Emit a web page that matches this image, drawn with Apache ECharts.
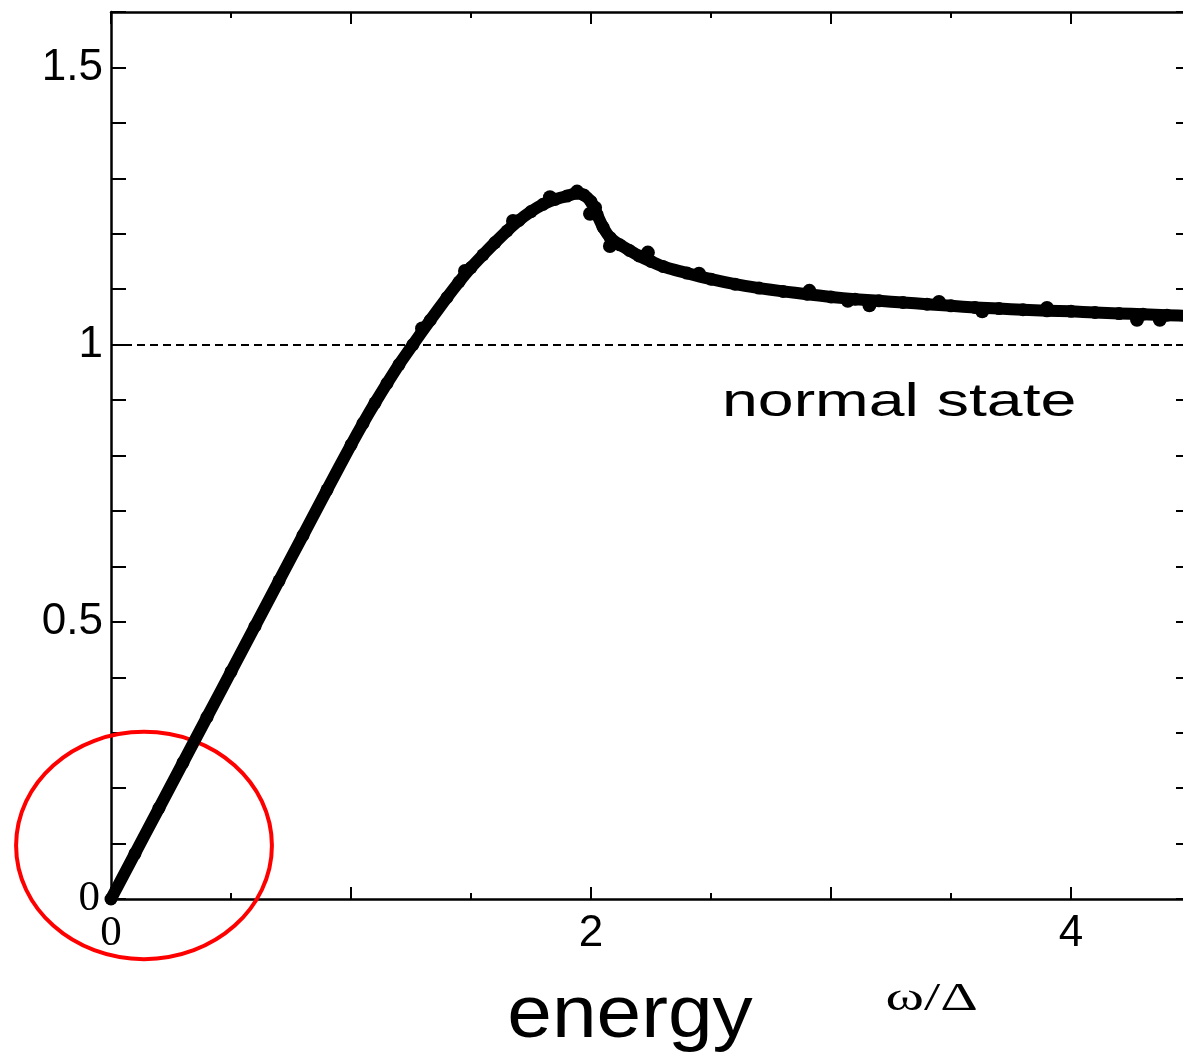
<!DOCTYPE html>
<html>
<head>
<meta charset="utf-8">
<script src="https://cdn.jsdelivr.net/npm/echarts@6/dist/echarts.min.js"></script>
<style>
  html, body { margin: 0; padding: 0; background: #ffffff; }
  #chart { width: 1183px; height: 1052px; }
</style>
</head>
<body>
<div id="chart"></div>
<script>
// Density of states (normalised to the normal state) against energy ω/Δ
const energy = [
  0, 0.1, 0.2, 0.3, 0.4, 0.5, 0.6, 0.7, 0.8, 0.9, 1.0, 1.05, 1.1, 1.15, 1.2, 1.258,
  1.33, 1.4, 1.45, 1.5, 1.55, 1.6, 1.65, 1.7, 1.75, 1.8, 1.85, 1.9, 1.94, 1.97,
  2.0, 2.025, 2.05, 2.08, 2.12, 2.16, 2.2, 2.25, 2.3, 2.4, 2.5, 2.6, 2.7, 2.8, 2.9,
  3.0, 3.1, 3.2, 3.3, 3.4, 3.5, 3.6, 3.7, 3.8, 3.9, 4.0, 4.1, 4.2, 4.3, 4.4, 4.5
];
const dos = [
  0, 0.082, 0.164, 0.246, 0.328, 0.41, 0.492, 0.574, 0.656, 0.738, 0.819, 0.858, 0.895, 0.93, 0.964, 1.0,
  1.044, 1.085, 1.113, 1.139, 1.162, 1.184, 1.205, 1.224, 1.24, 1.253, 1.262, 1.268, 1.273, 1.27,
  1.258, 1.235, 1.212, 1.193, 1.18, 1.17, 1.16, 1.15, 1.141, 1.129, 1.118, 1.109, 1.102, 1.096, 1.091,
  1.086, 1.082, 1.079, 1.076, 1.073, 1.07, 1.067, 1.065, 1.063, 1.061, 1.06, 1.058, 1.056, 1.055, 1.053, 1.052
];

// Individual sample points that stand slightly off the smooth trace
const sampleEnergy = [1.296, 1.475, 1.675, 1.829, 1.942, 1.996, 2.017, 2.079, 2.237, 2.45, 2.91, 3.07, 3.16, 3.45, 3.63, 3.9, 4.275, 4.37];
const sampleDos    = [1.029, 1.133, 1.223, 1.266, 1.276, 1.236, 1.247, 1.178, 1.166, 1.128, 1.097, 1.079, 1.071, 1.077, 1.060, 1.066, 1.045, 1.045];

// Axis tick labels
const xTickLabels = [0, 2, 4];
const yTickLabels = [0, 0.5, 1, 1.5];

// Reference level of the normal state
const normalLevel = 1;

// Annotation ellipse around the low-energy region (centre and radii in data units)
const ringCenter = [0.1375, 0.0965];
const ringRadius = [0.533, 0.205];

// Text annotation anchors (data units)
const normalStateAnchor = [2.546, 0.894];
const unitAnchor = [3.42, -0.182];
const axisTitleAnchor = [2.1625, -0.211];

const sansFont = '"Liberation Sans", Arial, Helvetica, sans-serif';
const serifFont = '"Liberation Serif", "Times New Roman", Times, serif';

function isLabelled(v, list) {
  return list.some(t => Math.abs(t - v) < 1e-6);
}

function tickText(v, list) {
  if (!isLabelled(v, list)) return '';
  const r = Math.round(v * 10) / 10;
  return r === 0 ? '{z|0}' : String(r);
}

const xZeroRich = { z: { fontFamily: serifFont, fontSize: 43, color: '#000' } };
const yZeroRich = { z: { fontFamily: serifFont, fontSize: 43, color: '#000', padding: [0, 3, 0, 0] } };

const frameLine = { show: true, onZero: false, lineStyle: { color: '#000', width: 2.5 } };

const chart = echarts.init(document.getElementById('chart'), null, { renderer: 'canvas' });

const option = {
  backgroundColor: '#ffffff',
  animation: false,
  grid: { left: 111, right: -8, top: 12, bottom: 153, containLabel: false, outerBoundsMode: 'none' },
  xAxis: [
    {
      type: 'value', position: 'bottom', min: 0, max: 4.5, interval: 1,
      axisLine: frameLine,
      axisTick: { show: true, inside: true, length: 12, lineStyle: { color: '#000', width: 2 } },
      minorTick: { show: true, splitNumber: 2, length: 6, lineStyle: { color: '#000', width: 2 } },
      axisLabel: {
        margin: 13, fontFamily: sansFont, fontSize: 44, color: '#000',
        formatter: v => tickText(v, xTickLabels), rich: xZeroRich
      },
      splitLine: { show: false }, minorSplitLine: { show: false }
    },
    {
      type: 'value', position: 'top', min: 0, max: 4.5, interval: 1,
      axisLine: frameLine,
      axisTick: { show: true, inside: true, length: 12, lineStyle: { color: '#000', width: 2 } },
      minorTick: { show: true, splitNumber: 2, length: 6, lineStyle: { color: '#000', width: 2 } },
      axisLabel: { show: false },
      splitLine: { show: false }
    }
  ],
  yAxis: [
    {
      type: 'value', position: 'left', min: 0, max: 1.6, interval: 0.1,
      axisLine: frameLine,
      axisTick: { show: true, inside: true, length: 15, lineStyle: { color: '#000', width: 2 } },
      axisLabel: {
        margin: 8, fontFamily: sansFont, fontSize: 44, color: '#000',
        formatter: v => tickText(v, yTickLabels), rich: yZeroRich
      },
      splitLine: { show: false }
    },
    {
      type: 'value', position: 'right', min: 0, max: 1.6, interval: 0.1,
      axisLine: frameLine,
      axisTick: { show: true, inside: true, length: 15, lineStyle: { color: '#000', width: 2 } },
      axisLabel: { show: false },
      splitLine: { show: false }
    }
  ],
  series: [
    {
      name: 'DOS',
      type: 'line',
      data: energy.map((e, i) => [e, dos[i]]),
      smooth: 0.2,
      symbol: 'circle',
      symbolSize: 13,
      showSymbol: true,
      showAllSymbol: true,
      itemStyle: { color: '#000', opacity: 1 },
      lineStyle: { color: '#000', width: 12, cap: 'round', join: 'round' },
      z: 3,
      markLine: {
        silent: true,
        symbol: 'none',
        label: { show: false },
        lineStyle: { color: '#000', width: 2, type: [8, 5] },
        data: [{ yAxis: normalLevel }],
        z: 2
      }
    },
    {
      name: 'samples',
      type: 'scatter',
      data: sampleEnergy.map((e, i) => [e, sampleDos[i]]),
      symbol: 'circle',
      symbolSize: 14,
      itemStyle: { color: '#000', opacity: 1 },
      z: 4
    }
  ]
};

chart.setOption(option);

// Annotations positioned through the chart's own coordinate conversion
const c = chart.convertToPixel({ gridIndex: 0 }, ringCenter);
const edge = chart.convertToPixel({ gridIndex: 0 }, [ringCenter[0] + ringRadius[0], ringCenter[1] + ringRadius[1]]);
const ns = chart.convertToPixel({ gridIndex: 0 }, normalStateAnchor);
const un = chart.convertToPixel({ gridIndex: 0 }, unitAnchor);
const at = chart.convertToPixel({ gridIndex: 0 }, axisTitleAnchor);

chart.setOption({
  graphic: [
    {
      type: 'ellipse', z: 1,
      shape: { cx: c[0], cy: c[1], rx: Math.abs(edge[0] - c[0]), ry: Math.abs(c[1] - edge[1]) },
      style: { fill: 'none', stroke: '#ff0000', lineWidth: 4 }
    },
    {
      type: 'text', z: 5,
      x: ns[0], y: ns[1], scaleX: 1.4, scaleY: 1,
      style: {
        text: 'normal state', fontFamily: sansFont, fontSize: 46, fill: '#000',
        textAlign: 'left', textVerticalAlign: 'middle'
      }
    },
    {
      type: 'text', z: 5,
      x: un[0], y: un[1], scaleX: 1.5, scaleY: 1,
      style: {
        text: 'ω/Δ', fontFamily: serifFont, fontSize: 39, fill: '#000',
        textAlign: 'center', textVerticalAlign: 'middle'
      }
    },
    {
      type: 'text', z: 5,
      x: at[0], y: at[1], scaleX: 1.07, scaleY: 1,
      style: {
        text: 'energy', fontFamily: sansFont, fontSize: 75, fill: '#000',
        textAlign: 'center', textVerticalAlign: 'middle'
      }
    }
  ]
});
</script>
</body>
</html>
